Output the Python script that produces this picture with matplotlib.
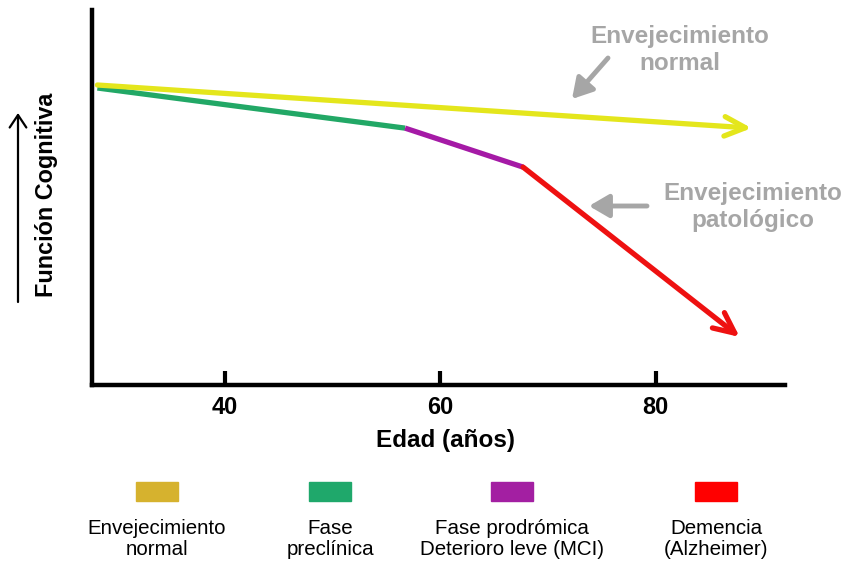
import matplotlib
matplotlib.use("Agg")
import matplotlib.pyplot as plt
from matplotlib.patches import Rectangle, FancyArrowPatch

plt.rcParams['font.family'] = ['Liberation Sans', 'DejaVu Sans']

# Data (age in years, cognitive function in arbitrary units 0-100)
normal_age = [28.2, 88.9]
normal_val = [80.0, 68.5]
preclin_age = [28.2, 56.75]
preclin_val = [79.2, 68.5]
prodrom_age = [56.75, 67.7]
prodrom_val = [68.5, 58.1]
dementia_age = [67.7, 87.8]
dementia_val = [58.1, 12.8]

xticks = [40, 60, 80]
legend_labels = ["Envejecimiento\nnormal", "Fase\npreclínica",
                 "Fase prodrómica\nDeterioro leve (MCI)", "Demencia\n(Alzheimer)"]
legend_colors = ["#D6B22E", "#1FA86B", "#A31FA2", "#FF0000"]

c_yellow = "#E4E61C"
c_green = "#22A866"
c_purple = "#A51AA6"
c_red = "#EE1111"
c_gray = "#A6A6A6"

W, H = 844, 563
def fx(px):
    return px / W
def fy(py):
    return 1 - py / H

fig = plt.figure(figsize=(8.44, 5.63), dpi=100)
ax = fig.add_axes([fx(92), fy(385), (785-92)/W, (385-10)/H])
ax.set_xlim(27.7, 92)
ax.set_ylim(0, 100)

for s in ['top', 'right']:
    ax.spines[s].set_visible(False)
for s in ['left', 'bottom']:
    ax.spines[s].set_linewidth(3.2)
ax.set_yticks([])
ax.set_xticks(xticks)
ax.set_xticklabels([str(t) for t in xticks], fontsize=17, fontweight='bold')
ax.tick_params(axis='x', direction='in', length=10, width=3, pad=8)

lw = 3.8
def arrow_seg(xs, ys, color):
    ax.annotate('', xy=(xs[1], ys[1]), xytext=(xs[0], ys[0]),
                arrowprops=dict(arrowstyle='->,head_length=1.5,head_width=0.7',
                                mutation_scale=10,
                                color=color, lw=lw, shrinkA=0, shrinkB=0,
                                capstyle='round', joinstyle='round'))

arrow_seg(normal_age, normal_val, c_yellow)
ax.plot(preclin_age, preclin_val, color=c_green, lw=lw, solid_capstyle='butt')
ax.plot(prodrom_age, prodrom_val, color=c_purple, lw=lw, solid_capstyle='butt')
arrow_seg(dementia_age, dementia_val, c_red)

# Annotations
fig.text(fx(680), fy(50), "Envejecimiento\nnormal", ha='center', va='center',
         fontsize=17.5, fontweight='bold', color=c_gray, linespacing=1.2)
fig.patches.append(FancyArrowPatch(
    (fx(608), fy(58)), (fx(572), fy(99)), transform=fig.transFigure,
    arrowstyle='-|>,head_length=0.6,head_width=0.35', color=c_gray, lw=3.5,
    mutation_scale=20, shrinkA=0, shrinkB=0))
fig.text(fx(753), fy(207), "Envejecimiento\npatológico", ha='center', va='center',
         fontsize=17.5, fontweight='bold', color=c_gray, linespacing=1.2)
fig.patches.append(FancyArrowPatch(
    (fx(647), fy(206)), (fx(589), fy(206)), transform=fig.transFigure,
    arrowstyle='-|>,head_length=0.6,head_width=0.35', color=c_gray, lw=3.5,
    mutation_scale=20, shrinkA=0, shrinkB=0))

# Axis labels
fig.text(fx(47), fy(195), "Función Cognitiva", rotation=90, ha='center',
         va='center', fontsize=16.8, fontweight='bold')
fig.patches.append(FancyArrowPatch(
    (fx(18), fy(302)), (fx(18), fy(113)), transform=fig.transFigure,
    arrowstyle='->,head_length=0.45,head_width=0.3', color='black', lw=1.6,
    mutation_scale=20, shrinkA=0, shrinkB=0))
fig.text(fx(446), fy(441), "Edad (años)", ha='center', va='center',
         fontsize=17.5, fontweight='bold')

# Legend
centers = [157, 330, 512, 716]
for cx, col, lab in zip(centers, legend_colors, legend_labels):
    fig.patches.append(Rectangle((fx(cx-21), fy(501)), 42/W, 19/H,
                                 transform=fig.transFigure, color=col))
    fig.text(fx(cx), fy(539), lab, ha='center', va='center', fontsize=14.8,
             linespacing=1.15)

fig.savefig("out.png", dpi=100, facecolor='white')
